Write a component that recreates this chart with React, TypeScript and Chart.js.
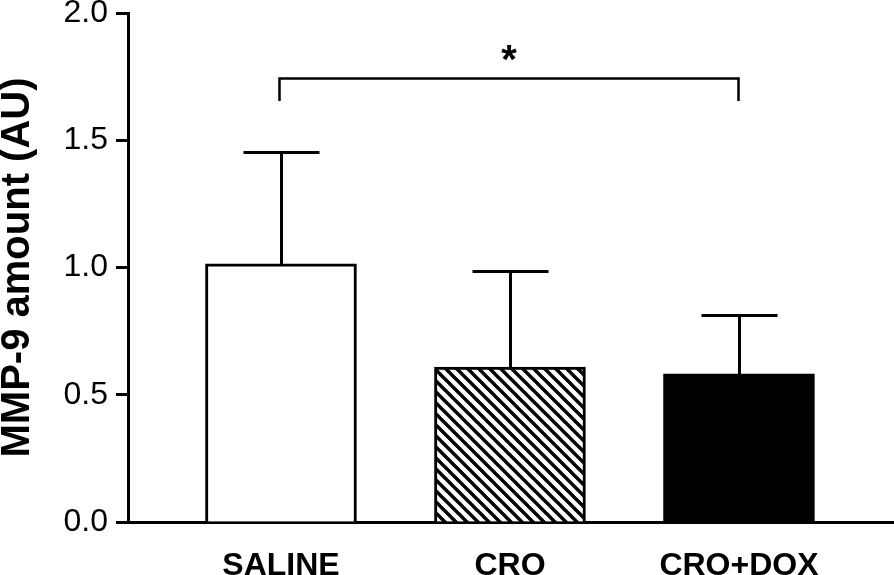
import React, { useEffect, useRef } from 'react';
import { Chart, registerables } from 'chart.js';

Chart.register(...registerables);

// ---- data ----
const CATEGORIES = ['SALINE', 'CRO', 'CRO+DOX'];
const POSITIONS = [1, 2, 3];
const MEANS = [1.014, 0.609, 0.582];
const ERRORS = [0.44, 0.377, 0.231];
const Y_TICKS = [0, 0.5, 1.0, 1.5, 2.0];
const SIG_PAIR = [1, 3];
const SIG_LEVELS = [1.745, 1.654]; // bracket top, leg bottom
const SIG_LABEL = '*';
const Y_TITLE = 'MMP-9 amount (AU)';

const FONT = "'Liberation Sans', Arial, Helvetica, sans-serif";

function makeHatch(): CanvasPattern | string {
  const s = 11;
  const c = document.createElement('canvas');
  c.width = s;
  c.height = s;
  const g = c.getContext('2d');
  if (!g) return '#fff';
  g.fillStyle = '#fff';
  g.fillRect(0, 0, s, s);
  g.strokeStyle = '#000';
  g.lineWidth = 3.4;
  g.beginPath();
  for (const o of [-s, 0, s]) {
    g.moveTo(o - 2, -2);
    g.lineTo(o + s + 2, s + 2);
  }
  g.stroke();
  const p = g.createPattern(c, 'repeat');
  return p || '#fff';
}

const overlayPlugin = {
  id: 'overlay',
  afterDatasetsDraw(chart: any) {
    const { ctx, scales } = chart;
    const x = scales.x;
    const y = scales.y;
    ctx.save();
    ctx.strokeStyle = '#000';
    ctx.lineWidth = 3;
    ctx.lineCap = 'butt';
    // error bars
    MEANS.forEach((m, i) => {
      const px = Math.round(x.getPixelForValue(POSITIONS[i])) + 0.5;
      const y0 = y.getPixelForValue(m);
      const y1 = Math.round(y.getPixelForValue(m + ERRORS[i])) + 0.5;
      ctx.beginPath();
      ctx.moveTo(px, y0);
      ctx.lineTo(px, y1);
      ctx.moveTo(px - 38, y1);
      ctx.lineTo(px + 38, y1);
      ctx.stroke();
    });
    // significance bracket
    const xa = Math.round(x.getPixelForValue(SIG_PAIR[0])) - 1.5;
    const xb = Math.round(x.getPixelForValue(SIG_PAIR[1])) - 0.5;
    const yt = Math.round(y.getPixelForValue(SIG_LEVELS[0])) + 0.5;
    const yl = y.getPixelForValue(SIG_LEVELS[1]);
    ctx.lineWidth = 2.5;
    ctx.beginPath();
    ctx.moveTo(xa, yl);
    ctx.lineTo(xa, yt);
    ctx.lineTo(xb, yt);
    ctx.lineTo(xb, yl);
    ctx.stroke();
    ctx.fillStyle = '#000';
    ctx.font = `bold 40px ${FONT}`;
    ctx.textAlign = 'center';
    ctx.textBaseline = 'alphabetic';
    ctx.fillText(SIG_LABEL, (xa + xb) / 2, yt - 6);
    ctx.restore();
  },
};

export default function App() {
  const ref = useRef<HTMLCanvasElement | null>(null);

  useEffect(() => {
    document.body.style.margin = '0';
    const canvas = ref.current;
    if (!canvas) return;
    const hatch = makeHatch();
    const chart = new Chart(canvas, {
      type: 'bar',
      data: {
        datasets: [
          {
            data: POSITIONS.map((p, i) => ({ x: p, y: MEANS[i] })),
            backgroundColor: ['#ffffff', hatch as any, '#000000'],
            borderColor: '#000000',
            borderWidth: 3,
            barThickness: 151,
          },
        ],
      },
      options: {
        responsive: false,
        animation: false,
        devicePixelRatio: 1,
        layout: { padding: { top: 13, left: 0, right: 0, bottom: 0 } },
        plugins: {
          legend: { display: false },
          tooltip: { enabled: false },
        },
        scales: {
          x: {
            type: 'linear',
            min: 0.332,
            max: 3.677,
            offset: false,
            z: 1,
            grid: { display: false, drawTicks: false },
            border: { display: true, color: '#000', width: 3 },
            afterBuildTicks: (scale: any) => {
              scale.ticks = POSITIONS.map((v) => ({ value: v }));
            },
            ticks: {
              autoSkip: false,
              maxRotation: 0,
              padding: 25,
              color: '#000',
              font: { family: FONT, size: 32, weight: 'bold', lineHeight: 1.2 },
              callback: (v: any) => {
                const i = POSITIONS.indexOf(Number(v));
                return i >= 0 ? CATEGORIES[i] : '';
              },
            },
            afterFit: (scale: any) => {
              scale.height = 53;
              scale.paddingLeft = 0;
              scale.paddingRight = 0;
            },
          },
          y: {
            type: 'linear',
            min: 0,
            max: 2,
            grid: {
              display: true,
              drawOnChartArea: false,
              drawTicks: true,
              tickLength: 12,
              tickWidth: 3,
              tickColor: '#000',
            },
            border: { display: true, color: '#000', width: 3 },
            afterBuildTicks: (scale: any) => {
              scale.ticks = Y_TICKS.map((v) => ({ value: v }));
            },
            ticks: {
              padding: 8,
              color: '#000',
              font: { family: FONT, size: 32, lineHeight: 1.2 },
              callback: (v: any) => Number(v).toFixed(1),
            },
            title: {
              display: true,
              text: Y_TITLE,
              color: '#000',
              padding: 0,
              font: { family: FONT, size: 40, weight: 'bold', lineHeight: 0.9 },
            },
            afterFit: (scale: any) => {
              scale.width = 128;
              scale.paddingTop = 0;
              scale.paddingBottom = 0;
            },
          },
        },
      },
      plugins: [overlayPlugin],
    });
    return () => chart.destroy();
  }, []);

  return (
    <div style={{ position: 'fixed', left: 0, top: 0, width: 894, height: 575, background: '#fff' }}>
      <canvas ref={ref} width={894} height={575} />
    </div>
  );
}
